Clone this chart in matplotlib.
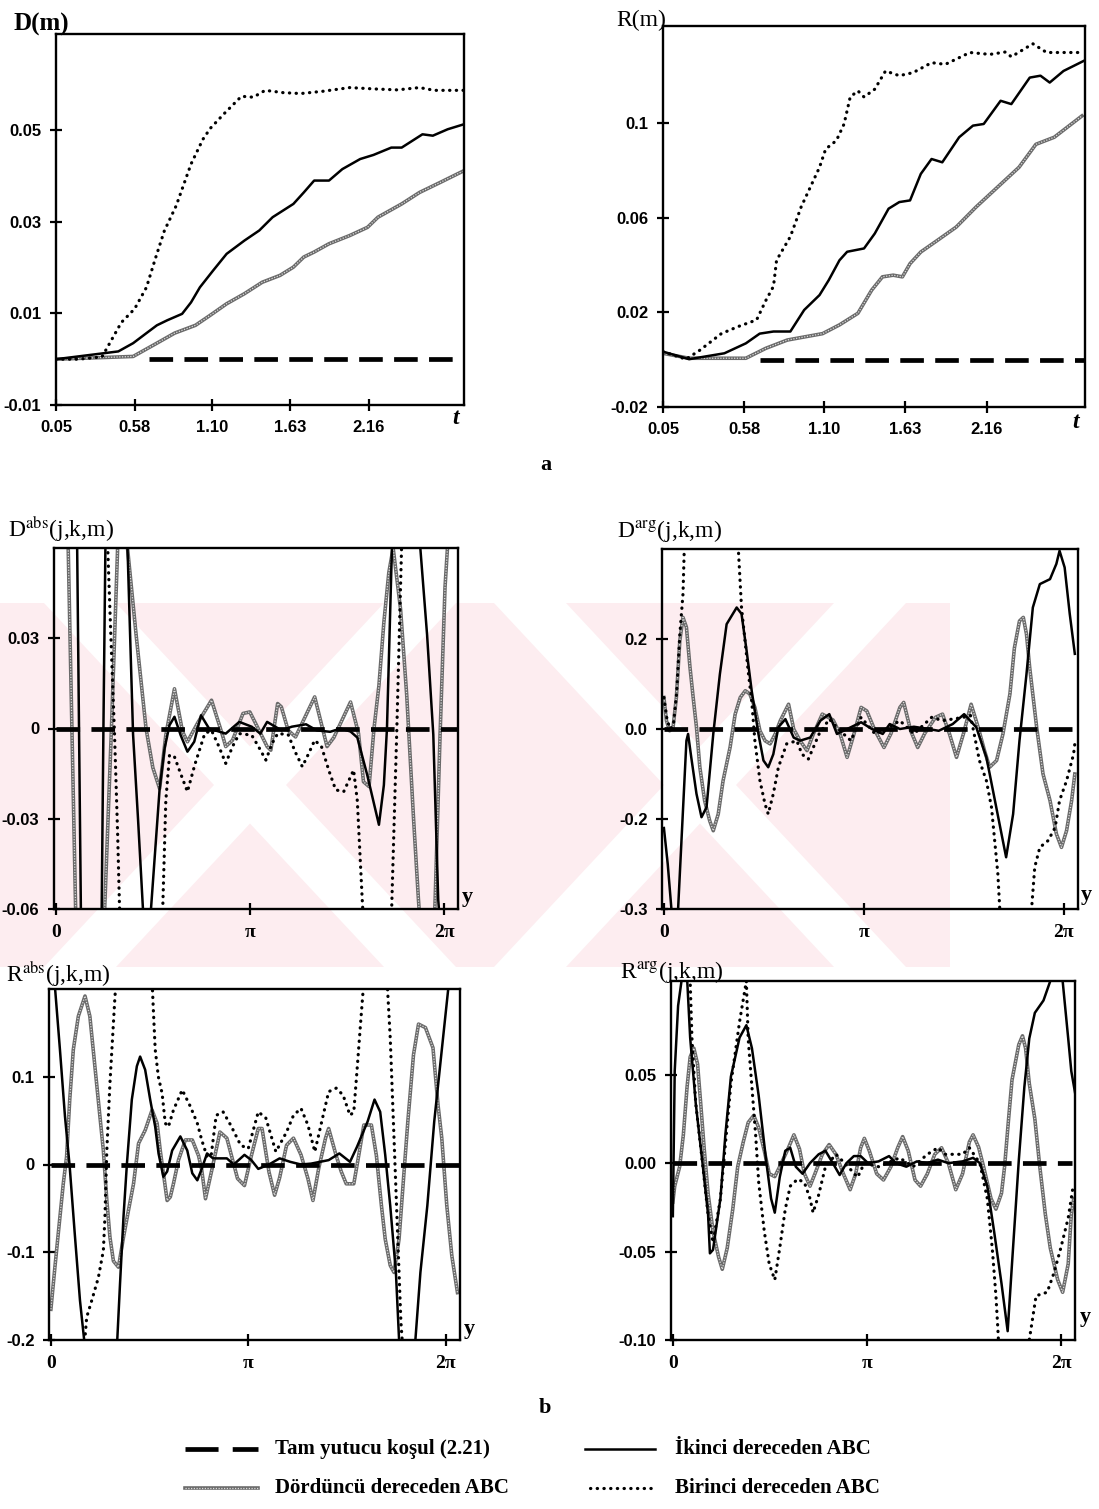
import numpy as np
import matplotlib.pyplot as plt
from matplotlib.lines import Line2D
from matplotlib.patches import Polygon

W, H = 1099, 1509
plt.rcParams['mathtext.fontset'] = 'stix'
SERIF = ['Liberation Serif', 'DejaVu Serif']
NARROW = ['Liberation Sans Narrow', 'Liberation Sans', 'DejaVu Sans']

# ---------------- data ----------------
# D(m) against t
dm_t_dot = [0.05, 0.20, 0.36, 0.49, 0.58, 0.66, 0.72, 0.78, 0.86, 0.96, 1.04, 1.09, 1.18, 1.30, 1.38,
            1.46, 1.58, 1.70, 1.85, 2.03, 2.20, 2.35, 2.50, 2.60, 2.80]
dm_dot = [0.0, 0.0, 0.0005, 0.008, 0.011, 0.0157, 0.022, 0.028, 0.0335, 0.0426, 0.048, 0.0504, 0.0535,
          0.0574, 0.0572, 0.0587, 0.0582, 0.058, 0.0585, 0.0593, 0.059, 0.0588, 0.0593, 0.0587, 0.0587]
dm_t_sol = [0.05, 0.47, 0.57, 0.66, 0.73, 0.80, 0.90, 0.96, 1.02, 1.11, 1.20, 1.32, 1.42, 1.51, 1.65,
            1.72, 1.79, 1.89, 1.98, 2.10, 2.19, 2.31, 2.38, 2.52, 2.59, 2.69, 2.79]
dm_sol = [0.0, 0.0017, 0.0035, 0.0057, 0.0074, 0.0085, 0.0099, 0.0124, 0.0157, 0.0194, 0.0230, 0.0259,
          0.0281, 0.0310, 0.0339, 0.0364, 0.0390, 0.0390, 0.0415, 0.0437, 0.0446, 0.0462, 0.0462,
          0.0491, 0.0488, 0.0502, 0.0512]
dm_t_gray = [0.05, 0.57, 0.73, 0.85, 0.99, 1.09, 1.20, 1.32, 1.44, 1.56, 1.65, 1.72, 1.79, 1.89, 2.03,
             2.15, 2.22, 2.38, 2.50, 2.64, 2.79]
dm_gray = [0.0, 0.0006, 0.0035, 0.0057, 0.0074, 0.0096, 0.0121, 0.0143, 0.0168, 0.0183, 0.0201, 0.0223,
           0.0234, 0.0252, 0.0270, 0.0288, 0.0310, 0.0339, 0.0364, 0.0386, 0.0410]
dm_t_dash = [0.68, 2.80]

# R(m) against t
rm_t_dot = [0.05, 0.20, 0.29, 0.43, 0.54, 0.66, 0.72, 0.77, 0.79, 0.88, 0.95, 1.00, 1.07, 1.11, 1.18,
            1.23, 1.27, 1.32, 1.36, 1.43, 1.50, 1.59, 1.68, 1.80, 1.89, 2.05, 2.18, 2.28, 2.32, 2.46,
            2.55, 2.78]
rm_dot = [0.0034, 0.0002, 0.004, 0.011, 0.014, 0.0168, 0.025, 0.031, 0.042, 0.052, 0.0645, 0.0715,
          0.0813, 0.089, 0.0926, 0.0996, 0.111, 0.1136, 0.111, 0.1143, 0.122, 0.120, 0.1213, 0.1255,
          0.1248, 0.1298, 0.129, 0.130, 0.128, 0.1335, 0.1298, 0.1298]
rm_t_sol = [0.05, 0.22, 0.45, 0.59, 0.68, 0.77, 0.88, 0.97, 1.07, 1.13, 1.20, 1.25, 1.36, 1.43, 1.52,
            1.59, 1.66, 1.73, 1.80, 1.87, 1.98, 2.07, 2.14, 2.25, 2.32, 2.44, 2.51, 2.57, 2.66, 2.79]
rm_sol = [0.0034, 0.0002, 0.0027, 0.0069, 0.011, 0.0119, 0.0119, 0.021, 0.0273, 0.0336, 0.042, 0.0456,
          0.047, 0.0533, 0.0638, 0.0666, 0.0673, 0.0785, 0.0848, 0.0834, 0.094, 0.0989, 0.0996, 0.1094,
          0.108, 0.1192, 0.120, 0.1171, 0.122, 0.1262]
rm_t_gray = [0.05, 0.22, 0.59, 0.72, 0.86, 1.09, 1.20, 1.32, 1.41, 1.48, 1.55, 1.61, 1.66, 1.73, 1.84,
             1.96, 2.09, 2.23, 2.37, 2.48, 2.60, 2.78]
rm_gray = [0.0027, 0.0006, 0.0006, 0.0048, 0.0083, 0.011, 0.0147, 0.0196, 0.0294, 0.035, 0.0357, 0.035,
           0.0406, 0.0455, 0.0505, 0.056, 0.0645, 0.0729, 0.0813, 0.091, 0.094, 0.103]
rm_t_dash = [0.68, 2.80]

# D^abs against y
dabs_y_sol = [0.0, 0.30, 0.375, 0.45, 0.70, 0.77, 0.85, 1.05, 1.16, 1.25, 1.33, 1.41, 1.48, 1.54, 1.68,
              1.76, 1.84, 1.92, 2.02, 2.13, 2.24, 2.35, 2.48, 2.75, 2.97, 3.17, 3.31, 3.42, 3.65, 3.82,
              4.05, 4.22, 4.44, 4.61, 4.77, 4.88, 5.04, 5.23, 5.31, 5.36, 5.44, 5.55, 5.75, 5.90, 6.01,
              6.11, 6.19, 6.35, 6.51]
dabs_sol = [0.10, 0.15, 0.0, -0.15, -0.15, 0.0, 0.15, 0.15, 0.06, -0.002, -0.030, -0.060, -0.08, -0.060,
            -0.020, -0.0066, 0.0011, 0.0039, -0.0022, -0.0077, -0.0044, 0.0044, 0.0, -0.0017, 0.0022,
            0.0006, -0.0017, 0.0022, -0.0006, 0.0006, 0.0014, -0.0006, -0.0011, 0.0, -0.001, -0.003,
            -0.0154, -0.032, -0.0188, 0.0, 0.0596, 0.10, 0.10, 0.06, 0.031, -0.002, -0.057, -0.10, -0.10]
dabs_y_gray = [0.0, 0.15, 0.20, 0.26, 0.32, 0.40, 0.70, 0.79, 0.90, 1.00, 1.08, 1.16, 1.30, 1.46, 1.57,
               1.68, 1.78, 1.92, 2.05, 2.13, 2.30, 2.52, 2.69, 2.75, 2.86, 3.03, 3.14, 3.26, 3.42, 3.48,
               3.59, 3.65, 3.76, 3.88, 4.19, 4.39, 4.50, 4.77, 4.90, 4.98, 5.07, 5.15, 5.23, 5.31, 5.39,
               5.46, 5.58, 5.68, 5.79, 5.87, 5.95, 6.10, 6.14, 6.22, 6.30, 6.40, 6.51]
dabs_gray = [0.10, 0.10, 0.06, 0.0, -0.06, -0.10, -0.10, -0.06, 0.0, 0.06, 0.08, 0.06, 0.031, 0.0,
             -0.013, -0.020, -0.0022, 0.0132, -0.001, -0.0044, 0.002, 0.0094, -0.0017, -0.006, -0.0039,
             0.005, 0.0055, 0.0006, -0.006, -0.0072, 0.0083, 0.0072, -0.0006, -0.0028, 0.0105, -0.006,
             -0.003, 0.0088, -0.0017, -0.0177, -0.0193, 0.0, 0.0143, 0.0353, 0.0518, 0.060, 0.0397,
             0.011, -0.0298, -0.057, -0.08, -0.08, -0.057, -0.002, 0.047, 0.08, 0.09]
dabs_y_dot = [0.0, 0.80, 0.84, 0.89, 0.95, 1.00, 1.03, 1.10, 1.65, 1.73, 1.78, 1.84, 1.92, 2.02, 2.13,
              2.25, 2.41, 2.52, 2.64, 2.75, 2.86, 2.97, 3.17, 3.28, 3.40, 3.50, 3.59, 3.76, 3.88, 3.99,
              4.10, 4.19, 4.30, 4.42, 4.53, 4.66, 4.82, 4.88, 4.96, 5.05, 5.40, 5.44, 5.52, 5.60, 5.70,
              6.51]
dabs_dot = [0.10, 0.10, 0.06, 0.031, -0.002, -0.035, -0.059, -0.09, -0.09, -0.06, -0.024, -0.0088,
            -0.0094, -0.015, -0.021, -0.012, -0.0017, -0.0006, -0.006, -0.0116, -0.006, -0.0017, -0.0022,
            -0.006, -0.0105, -0.005, -0.0017, -0.002, -0.008, -0.0127, -0.008, -0.0039, -0.006, -0.014,
            -0.0204, -0.021, -0.0138, -0.024, -0.057, -0.09, -0.09, -0.057, 0.0, 0.063, 0.10, 0.10]
dabs_y_dash = [0.0, 6.51]

# D^arg against y
darg_y_sol = [0.0, 0.06, 0.118, 0.17, 0.223, 0.302, 0.354, 0.38, 0.43, 0.512, 0.591, 0.67, 0.776, 0.88,
              0.986, 1.144, 1.22, 1.30, 1.38, 1.486, 1.565, 1.64, 1.72, 1.80, 1.91, 2.04, 2.14, 2.30,
              2.46, 2.60, 2.72, 2.94, 3.10, 3.27, 3.44, 3.55, 3.71, 3.93, 4.16, 4.32, 4.54, 4.72, 4.91,
              5.07, 5.225, 5.38, 5.49, 5.59, 5.70, 5.80, 5.91, 6.07, 6.17, 6.22, 6.30, 6.38, 6.46]
darg_sol = [-0.22, -0.30, -0.40, -0.46, -0.40, -0.174, -0.026, -0.011, -0.063, -0.144, -0.196, -0.174,
            -0.011, 0.122, 0.233, 0.27, 0.256, 0.174, 0.085, -0.011, -0.07, -0.085, -0.056, 0.004,
            0.022, -0.019, -0.026, -0.019, 0.0185, 0.033, -0.011, 0.004, 0.015, 0.0, -0.011, 0.011,
            0.0, 0.005, 0.0, -0.004, 0.011, 0.033, 0.004, -0.063, -0.174, -0.285, -0.189, -0.026,
            0.122, 0.27, 0.322, 0.333, 0.367, 0.396, 0.359, 0.256, 0.167]
darg_y_dot = [0.0, 0.05, 0.10, 0.15, 0.20, 0.25, 0.30, 0.33, 0.40, 1.10, 1.17, 1.22, 1.33, 1.38, 1.43,
              1.51, 1.59, 1.64, 1.72, 1.80, 1.93, 2.09, 2.17, 2.27, 2.44, 2.60, 2.77, 2.94, 3.10, 3.32,
              3.49, 3.71, 3.93, 4.21, 4.38, 4.71, 4.82, 4.96, 5.07, 5.15, 5.20, 5.25, 5.28, 5.35, 5.75,
              5.78, 5.83, 5.91, 6.04, 6.15, 6.22, 6.33, 6.44, 6.46]
darg_dot = [0.07, 0.02, 0.0, 0.01, 0.08, 0.21, 0.30, 0.45, 0.60, 0.60, 0.40, 0.27, 0.122, 0.063,
            -0.026, -0.115, -0.167, -0.189, -0.144, -0.085, -0.033, -0.026, -0.056, -0.067, -0.011,
            0.022, -0.004, -0.026, 0.026, -0.011, 0.0, 0.0185, -0.011, 0.026, 0.0185, 0.026, 0.03,
            -0.07, -0.115, -0.174, -0.248, -0.322, -0.40, -0.55, -0.55, -0.40, -0.307, -0.263, -0.248,
            -0.219, -0.159, -0.115, -0.056, -0.033]
darg_y_gray = [0.0, 0.04, 0.09, 0.144, 0.196, 0.25, 0.30, 0.354, 0.41, 0.46, 0.512, 0.565, 0.64, 0.72,
               0.776, 0.854, 0.93, 1.04, 1.12, 1.20, 1.28, 1.35, 1.43, 1.51, 1.59, 1.67, 1.75, 1.83,
               1.96, 2.04, 2.14, 2.25, 2.35, 2.49, 2.66, 2.77, 2.88, 2.99, 3.10, 3.19, 3.32, 3.46, 3.57,
               3.71, 3.77, 3.88, 3.99, 4.10, 4.27, 4.38, 4.49, 4.60, 4.71, 4.83, 4.94, 5.04, 5.12, 5.23,
               5.33, 5.44, 5.51, 5.59, 5.65, 5.70, 5.75, 5.86, 5.96, 6.07, 6.17, 6.25, 6.33, 6.41, 6.46]
darg_gray = [0.07, 0.0185, -0.004, 0.004, 0.07, 0.196, 0.248, 0.226, 0.137, 0.07, 0.004, -0.085, -0.159,
             -0.204, -0.226, -0.189, -0.115, -0.041, 0.033, 0.07, 0.085, 0.078, 0.048, -0.004, -0.026,
             -0.033, -0.011, 0.0185, 0.055, 0.0, -0.026, -0.048, -0.011, 0.033, 0.02, -0.011, -0.063,
             -0.01, 0.048, 0.04, -0.004, -0.041, -0.01, 0.048, 0.059, -0.004, -0.041, -0.01, 0.026,
             0.033, -0.011, -0.063, -0.01, 0.055, 0.004, -0.048, -0.085, -0.07, -0.011, 0.078, 0.18,
             0.24, 0.248, 0.211, 0.137, 0.004, -0.10, -0.159, -0.233, -0.263, -0.226, -0.159, -0.10]
darg_y_dash = [0.0, 6.46]

# R^abs against y
rabs_y_sol = [0.0, 0.064, 0.144, 0.224, 0.30, 0.38, 0.463, 0.543, 0.62, 0.95, 1.05, 1.10, 1.155, 1.21,
              1.288, 1.368, 1.42, 1.50, 1.58, 1.66, 1.713, 1.79, 1.85, 1.93, 2.06, 2.17, 2.25, 2.33,
              2.40, 2.485, 2.58, 2.80, 2.91, 3.08, 3.19, 3.30, 3.47, 3.64, 3.81, 3.98, 4.14, 4.42, 4.59,
              4.76, 4.87, 5.04, 5.15, 5.24, 5.32, 5.40, 5.49, 5.54, 5.60, 5.75, 5.80, 5.88, 5.99, 6.10,
              6.24, 6.33, 6.40, 6.51]
rabs_sol = [0.26, 0.203, 0.131, 0.055, -0.003, -0.079, -0.155, -0.209, -0.24, -0.26, -0.209, -0.136,
            -0.06, 0.001, 0.074, 0.112, 0.123, 0.108, 0.074, 0.043, 0.0126, -0.014, -0.008, 0.016, 0.032,
            0.016, -0.010, -0.018, -0.005, 0.0126, 0.007, 0.007, 0.0, 0.011, 0.005, -0.005, 0.0, 0.007,
            0.003, 0.0, 0.001, 0.005, 0.0126, 0.003, 0.02, 0.049, 0.074, 0.06, 0.011, -0.047, -0.123,
            -0.199, -0.25, -0.25, -0.2, -0.123, -0.047, 0.049, 0.144, 0.205, 0.25, 0.28]
rabs_y_gray = [0.0, 0.064, 0.117, 0.197, 0.25, 0.30, 0.357, 0.437, 0.543, 0.62, 0.70, 0.78, 0.835, 0.89,
               0.94, 0.995, 1.075, 1.155, 1.235, 1.315, 1.395, 1.50, 1.61, 1.69, 1.74, 1.85, 1.90, 1.95,
               2.03, 2.14, 2.25, 2.35, 2.40, 2.46, 2.58, 2.69, 2.80, 2.97, 3.08, 3.19, 3.30, 3.36, 3.47,
               3.56, 3.64, 3.75, 3.86, 3.98, 4.09, 4.17, 4.26, 4.37, 4.42, 4.54, 4.62, 4.70, 4.82, 4.90,
               4.98, 5.10, 5.18, 5.26, 5.32, 5.40, 5.46, 5.54, 5.60, 5.68, 5.77, 5.85, 5.96, 6.08, 6.16,
               6.22, 6.30, 6.38, 6.47]
rabs_gray = [-0.165, -0.117, -0.079, -0.022, 0.009, 0.074, 0.131, 0.169, 0.192, 0.169, 0.112, 0.055,
             0.016, -0.041, -0.083, -0.11, -0.117, -0.083, -0.052, -0.022, 0.024, 0.039, 0.062, 0.047,
             0.016, -0.041, -0.037, -0.022, 0.005, 0.028, 0.028, 0.01, -0.006, -0.039, 0.0, 0.037, 0.03,
             -0.016, -0.024, 0.01, 0.041, 0.041, -0.0084, -0.035, -0.015, 0.022, 0.03, 0.011, -0.016,
             -0.041, -0.005, 0.03, 0.041, 0.01, -0.008, -0.022, -0.022, 0.011, 0.045, 0.045, 0.01,
             -0.047, -0.085, -0.115, -0.123, -0.085, -0.027, 0.049, 0.125, 0.16, 0.156, 0.133, 0.068,
             0.03, -0.047, -0.104, -0.146]
rabs_y_dot = [0.0, 0.45, 0.543, 0.57, 0.65, 0.755, 0.835, 0.86, 0.89, 0.94, 1.02, 1.10, 1.55, 1.61, 1.63,
              1.66, 1.71, 1.77, 1.82, 1.87, 1.95, 2.09, 2.22, 2.33, 2.40, 2.485, 2.55, 2.63, 2.74, 2.86,
              3.02, 3.14, 3.30, 3.42, 3.58, 3.75, 3.86, 3.98, 4.09, 4.20, 4.31, 4.42, 4.54, 4.65, 4.76,
              4.82, 4.87, 4.93, 4.98, 5.05, 5.30, 5.35, 5.40, 5.46, 5.52, 5.57, 5.65, 6.51]
rabs_dot = [-0.26, -0.26, -0.197, -0.174, -0.155, -0.129, -0.098, -0.06, 0.016, 0.093, 0.192, 0.26, 0.26,
            0.21, 0.177, 0.131, 0.10, 0.081, 0.047, 0.043, 0.062, 0.085, 0.066, 0.047, 0.028, 0.009,
            0.01, 0.056, 0.06, 0.045, 0.022, 0.018, 0.06, 0.053, 0.0145, 0.037, 0.056, 0.064, 0.045,
            0.0145, 0.049, 0.083, 0.087, 0.079, 0.056, 0.06, 0.106, 0.163, 0.209, 0.26, 0.26, 0.209,
            0.144, 0.03, -0.085, -0.18, -0.26, -0.26]
rabs_y_dash = [0.0, 6.51]

# R^arg against y
rarg_y_sol = [0.0, 0.03, 0.085, 0.14, 0.19, 0.23, 0.28, 0.37, 0.48, 0.57, 0.60, 0.65, 0.77, 0.85, 0.94,
              1.08, 1.19, 1.28, 1.39, 1.51, 1.59, 1.65, 1.73, 1.82, 1.90, 1.99, 2.10, 2.22, 2.36, 2.47,
              2.59, 2.70, 2.81, 2.93, 3.04, 3.16, 3.33, 3.50, 3.61, 3.78, 3.95, 4.12, 4.29, 4.46, 4.69,
              4.86, 4.97, 5.09, 5.20, 5.32, 5.42, 5.49, 5.60, 5.69, 5.77, 5.86, 6.00, 6.11, 6.20, 6.31,
              6.40, 6.45, 6.51]
rarg_sol = [-0.03, 0.052, 0.089, 0.103, 0.12, 0.105, 0.071, 0.034, 0.0, -0.029, -0.051, -0.049, -0.020,
            0.016, 0.049, 0.071, 0.078, 0.065, 0.038, 0.0015, -0.020, -0.028, -0.008, 0.007, 0.0087,
            -0.002, -0.006, 0.0, 0.005, 0.007, 0.0, -0.0067, 0.0, 0.004, 0.004, 0.0, 0.001, 0.004, 0.0,
            -0.002, 0.001, 0.0, 0.002, 0.0, 0.001, 0.003, 0.0, -0.013, -0.0385, -0.068, -0.095, -0.057,
            0.0015, 0.043, 0.0705, 0.085, 0.092, 0.103, 0.12, 0.103, 0.0705, 0.052, 0.04]
rarg_y_dot = [0.0, 0.20, 0.28, 0.31, 0.37, 0.48, 0.57, 0.65, 0.77, 0.94, 1.08, 1.19, 1.22, 1.28, 1.34,
              1.39, 1.48, 1.56, 1.65, 1.73, 1.82, 1.90, 2.02, 2.13, 2.22, 2.27, 2.36, 2.47, 2.64, 2.81,
              2.99, 3.10, 3.33, 3.67, 3.89, 4.12, 4.29, 4.41, 4.69, 4.80, 4.97, 5.09, 5.17, 5.23, 5.26,
              5.30, 5.74, 5.77, 5.88, 6.06, 6.17, 6.28, 6.40, 6.48]
rarg_dot = [0.12, 0.12, 0.103, 0.07, 0.034, 0.0, -0.029, -0.045, -0.02, 0.045, 0.08, 0.103, 0.07, 0.043,
            0.016, -0.011, -0.0385, -0.057, -0.066, -0.048, -0.026, -0.013, -0.009, -0.011, -0.020,
            -0.028, -0.018, -0.002, 0.005, -0.001, -0.008, 0.0, -0.002, 0.003, -0.002, 0.005, 0.0087,
            0.005, 0.005, 0.0087, 0.0, -0.020, -0.048, -0.075, -0.093, -0.12, -0.12, -0.10, -0.075,
            -0.073, -0.062, -0.048, -0.031, -0.013]
rarg_y_gray = [0.0, 0.03, 0.11, 0.17, 0.23, 0.28, 0.34, 0.40, 0.45, 0.51, 0.57, 0.65, 0.74, 0.80, 0.88,
               0.97, 1.05, 1.14, 1.22, 1.31, 1.39, 1.48, 1.56, 1.65, 1.73, 1.85, 1.96, 2.05, 2.13, 2.22,
               2.30, 2.42, 2.53, 2.64, 2.76, 2.87, 2.96, 3.04, 3.10, 3.18, 3.30, 3.41, 3.53, 3.64, 3.72,
               3.81, 3.92, 4.01, 4.12, 4.24, 4.35, 4.46, 4.58, 4.69, 4.80, 4.86, 4.95, 5.03, 5.15, 5.23,
               5.32, 5.37, 5.43, 5.49, 5.60, 5.66, 5.71, 5.77, 5.86, 5.94, 6.03, 6.11, 6.23, 6.31, 6.40,
               6.45, 6.49]
rarg_gray = [-0.022, -0.013, -0.002, 0.016, 0.043, 0.06, 0.065, 0.056, 0.034, 0.007, -0.017, -0.0385,
             -0.053, -0.060, -0.048, -0.026, -0.002, 0.012, 0.023, 0.027, 0.020, 0.007, -0.006, -0.0076,
             -0.002, 0.007, 0.016, 0.008, -0.006, -0.013, -0.006, 0.005, 0.0105, 0.005, -0.006, -0.015,
             -0.006, 0.0087, 0.014, 0.007, -0.006, -0.0095, -0.002, 0.0087, 0.015, 0.007, -0.0095, -0.013,
             -0.006, 0.005, 0.0087, 0.0, -0.015, -0.006, 0.012, 0.016, 0.009, -0.002, -0.020, -0.026,
             -0.017, -0.002, 0.023, 0.047, 0.067, 0.072, 0.065, 0.045, 0.025, -0.002, -0.029, -0.048,
             -0.066, -0.073, -0.057, -0.029, -0.020]
rarg_y_dash = [0.0, 6.46]

t_ticks = [0.05, 0.58, 1.10, 1.63, 2.16]
t_labels = ['0.05', '0.58', '1.10', '1.63', '2.16']
y_ticks = [0, np.pi, 2 * np.pi]
y_labels = ['0', 'π', '2π']

legend_labels = ['Tam yutucu koşul (2.21)', 'İkinci dereceden ABC',
                 'Dördüncü dereceden ABC', 'Birinci dereceden ABC']


# ---------------- drawing helpers ----------------
def gray_line(ax, x, y, **kw):
    ax.plot(x, y, color='#6a6a6a', lw=2.6, zorder=2, **kw)
    ax.plot(x, y, color='#dcdcdc', lw=0.9, ls=(0, (1, 1.2)), zorder=2.1, **kw)


def solid_line(ax, x, y, **kw):
    ax.plot(x, y, color='black', lw=1.8, zorder=3, **kw)


def dotted_line(ax, x, y, **kw):
    ax.plot(x, y, color='black', lw=2.3, ls=(0, (0.1, 2.0)), dash_capstyle='round', zorder=3, **kw)


def dashed_line(ax, x, y, **kw):
    ax.plot(x, y, color='black', lw=3.4, ls=(0, (5, 2.4)), zorder=4, **kw)


def make_ax(fig, l, r, t, b):
    ax = fig.add_axes([l / W, 1 - b / H, (r - l) / W, (b - t) / H])
    ax.set_facecolor('none')
    for s in ax.spines.values():
        s.set_linewidth(1.7)
    ax.tick_params(direction='inout', length=9, width=1.6, pad=6)
    return ax


def set_ticks(ax, xt, xl, yt, yl, xfont, xsize):
    ax.set_xticks(xt)
    ax.set_xticklabels(xl, fontfamily=xfont, fontweight='bold', fontsize=xsize)
    ax.set_yticks(yt)
    ax.set_yticklabels(yl, fontfamily=NARROW, fontweight='bold', fontsize=12)


def ftext(fig, x, y, s, **kw):
    fig.text(x / W, 1 - y / H, s, **kw)


def fpoly(fig, pts, color):
    xy = [(x / W, 1 - y / H) for x, y in pts]
    fig.patches.append(Polygon(xy, closed=True, transform=fig.transFigure, facecolor=color,
                               edgecolor='none', zorder=-5))


fig = plt.figure(figsize=(W / 100, H / 100), dpi=100, facecolor='white')

# faint pink scan watermark behind the middle of the page
wm_top, wm_bot = 603, 967
fpoly(fig, [(0, wm_top), (950, wm_top), (950, wm_bot), (0, wm_bot)], '#fdedf0')
for cx in (250, 700):
    for sgn in (1, -1):
        a, b = cx - sgn * 170, cx + sgn * 170
        fpoly(fig, [(a - 36, wm_top), (a + 36, wm_top), (b + 36, wm_bot), (b - 36, wm_bot)], 'white')

# ---- D(m) ----
ax = make_ax(fig, 56, 464, 34, 405)
gray_line(ax, dm_t_gray, dm_gray)
solid_line(ax, dm_t_sol, dm_sol)
dotted_line(ax, dm_t_dot, dm_dot)
dashed_line(ax, dm_t_dash, [0, 0])
ax.set_xlim(0.05, 2.80)
ax.set_ylim(-0.01, 0.071)
set_ticks(ax, t_ticks, t_labels, [-0.01, 0.01, 0.03, 0.05], ['-0.01', '0.01', '0.03', '0.05'], NARROW, 12)
ftext(fig, 13, 31, 'D(m)', fontfamily=SERIF, fontweight='bold', fontsize=18)
ftext(fig, 452, 424, 't', fontfamily=SERIF, fontweight='bold', style='italic', fontsize=17)

# ---- R(m) ----
ax = make_ax(fig, 663, 1085, 26, 407)
gray_line(ax, rm_t_gray, rm_gray)
solid_line(ax, rm_t_sol, rm_sol)
dotted_line(ax, rm_t_dot, rm_dot)
dashed_line(ax, rm_t_dash, [0, 0])
ax.set_xlim(0.05, 2.80)
ax.set_ylim(-0.02, 0.141)
set_ticks(ax, t_ticks, t_labels, [-0.02, 0.02, 0.06, 0.1], ['-0.02', '0.02', '0.06', '0.1'], NARROW, 12)
ftext(fig, 616, 26, 'R(m)', fontfamily=SERIF, fontsize=17)
ftext(fig, 1072, 428, 't', fontfamily=SERIF, fontweight='bold', style='italic', fontsize=17)

ftext(fig, 546, 470, 'a', fontfamily=SERIF, fontweight='bold', fontsize=16, ha='center')

# ---- D^abs ----
ax = make_ax(fig, 54, 458, 548, 909)
gray_line(ax, dabs_y_gray, dabs_gray)
solid_line(ax, dabs_y_sol, dabs_sol)
dotted_line(ax, dabs_y_dot, dabs_dot)
dashed_line(ax, dabs_y_dash, [0, 0])
ax.set_xlim(-0.03, 6.51)
ax.set_ylim(-0.06, 0.06)
set_ticks(ax, y_ticks, y_labels, [-0.06, -0.03, 0, 0.03], ['-0.06', '-0.03', '0', '0.03'], SERIF, 14)
ftext(fig, 8, 537, r'D$^{\mathrm{abs}}$(j,k,m)', fontfamily=SERIF, fontsize=17)
ftext(fig, 462, 902, 'y', fontfamily=SERIF, fontweight='bold', fontsize=16)

# ---- D^arg ----
ax = make_ax(fig, 662, 1078, 549, 909)
gray_line(ax, darg_y_gray, darg_gray)
solid_line(ax, darg_y_sol, darg_sol)
dotted_line(ax, darg_y_dot, darg_dot)
dashed_line(ax, darg_y_dash, [0, 0])
ax.set_xlim(-0.03, 6.51)
ax.set_ylim(-0.4, 0.4)
set_ticks(ax, y_ticks, y_labels, [-0.4, -0.2, 0, 0.2], ['-0.3', '-0.2', '0.0', '0.2'], SERIF, 14)
ftext(fig, 617, 537, r'D$^{\mathrm{arg}}$(j,k,m)', fontfamily=SERIF, fontsize=17)
ftext(fig, 1081, 900, 'y', fontfamily=SERIF, fontweight='bold', fontsize=16)

# ---- R^abs ----
ax = make_ax(fig, 49, 460, 989, 1340)
gray_line(ax, rabs_y_gray, rabs_gray)
solid_line(ax, rabs_y_sol, rabs_sol)
dotted_line(ax, rabs_y_dot, rabs_dot)
dashed_line(ax, rabs_y_dash, [0, 0])
ax.set_xlim(-0.03, 6.51)
ax.set_ylim(-0.2, 0.2)
set_ticks(ax, y_ticks, y_labels, [-0.2, -0.1, 0, 0.1], ['-0.2', '-0.1', '0', '0.1'], SERIF, 14)
ftext(fig, 6, 982, r'R$^{\mathrm{abs}}$(j,k,m)', fontfamily=SERIF, fontsize=17)
ftext(fig, 464, 1334, 'y', fontfamily=SERIF, fontweight='bold', fontsize=16)

# ---- R^arg ----
ax = make_ax(fig, 671, 1075, 981, 1340)
gray_line(ax, rarg_y_gray, rarg_gray)
solid_line(ax, rarg_y_sol, rarg_sol)
dotted_line(ax, rarg_y_dot, rarg_dot)
dashed_line(ax, rarg_y_dash, [0, 0])
ax.set_xlim(-0.03, 6.51)
ax.set_ylim(-0.1, 0.103)
set_ticks(ax, y_ticks, y_labels, [-0.1, -0.05, 0, 0.05], ['-0.10', '-0.05', '0.00', '0.05'], SERIF, 14)
ftext(fig, 620, 978, r'R$^{\mathrm{arg}}$(j,k,m)', fontfamily=SERIF, fontsize=17)
ftext(fig, 1080, 1322, 'y', fontfamily=SERIF, fontweight='bold', fontsize=16)

ftext(fig, 545, 1413, 'b', fontfamily=SERIF, fontweight='bold', fontsize=16, ha='center')


# ---- legend, drawn by hand below the panels ----
def fl(x0, x1, y, **kw):
    fig.add_artist(Line2D([x0 / W, x1 / W], [1 - y / H, 1 - y / H], transform=fig.transFigure, **kw))


fl(185, 258, 1449, color='black', lw=3.4, ls=(0, (7, 3)))
fl(585, 655, 1449, color='black', lw=1.8)
fl(185, 258, 1488, color='#6a6a6a', lw=2.6)
fl(185, 258, 1488, color='#dcdcdc', lw=0.9, ls=(0, (1, 1.2)))
fl(590, 655, 1488, color='black', lw=2.3, ls=(0, (0.1, 2.0)), dash_capstyle='round')
for (x, y), s in zip([(275, 1449), (675, 1449), (275, 1488), (675, 1488)], legend_labels):
    ftext(fig, x, y, s, fontfamily=SERIF, fontweight='bold', fontsize=15, va='center')

fig.savefig('out.png', dpi=100, facecolor='white')
